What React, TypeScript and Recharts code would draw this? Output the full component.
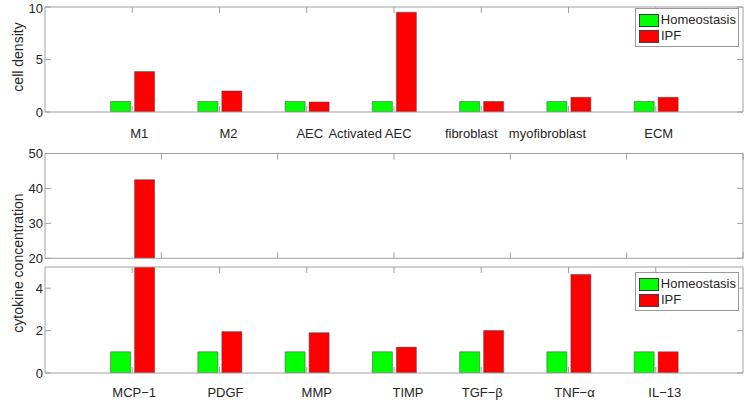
import React from "react";
import { BarChart, Bar, XAxis, YAxis, Legend } from "recharts";

// cell densities (top panel)
const cellTypes = ["M1", "M2", "AEC", "Activated AEC", "fibroblast", "myofibroblast", "ECM"];
const cellHomeostasis = [1, 1, 1, 1, 1, 1, 1];
const cellIPF = [3.85, 2.0, 0.95, 9.5, 1.0, 1.4, 1.4];
const cellTicks = [0, 5, 10];

// cytokine concentrations (broken axis, two lower panels)
const cytokines = ["MCP−1", "PDGF", "MMP", "TIMP", "TGF−β", "TNF−α", "IL−13"];
const cytoHomeostasis = [1, 1, 1, 1, 1, 1, 1];
const cytoIPF = [42.5, 1.95, 1.9, 1.22, 2.0, 4.65, 1.0];
const cytoLowTicks = [0, 2, 4];
const cytoHighTicks = [20, 30, 40, 50];
const highPanelXTicks = [1, 2, 3, 4, 5, 6];

// horizontal nudges of the category labels (as placed in the original)
const cellLabelShift = [7, 9, 3, -24, -10, -21, 3];
const cytoLabelShift = [2, 6, 10, 14, 1, 6, 9];

const W = 745;
const H = 400;
const FONT = "'Liberation Sans', Arial, Helvetica, sans-serif";
const AXIS = "#a0a0a0";
const TEXT = "#262626";
const GREEN = "#00ff00";
const RED = "#ff0000";
const EDGE = "#404040";

const cellData = cellTypes.map((name, i) => ({
  name,
  homeostasis: cellHomeostasis[i],
  ipf: cellIPF[i],
}));
const cytoData = cytokines.map((name, i) => ({
  name,
  homeostasis: cytoHomeostasis[i],
  ipf: cytoIPF[i],
}));
const cytoHighData = cytokines.map((name, i) => ({
  name,
  homeostasis: cytoHomeostasis[i] > 20 ? cytoHomeostasis[i] : null,
  ipf: cytoIPF[i] > 20 ? cytoIPF[i] : null,
}));

const catPadding = { left: 43.6, right: 43.6 };
const hiddenTick = () => <g />;

function makeTick(shifts: number[]) {
  return (props: any) => {
    const { x, y, payload } = props;
    return (
      <text
        x={x + (shifts[payload.index] || 0)}
        y={y}
        dy="0.71em"
        textAnchor="middle"
        fill={TEXT}
        fontSize={13}
      >
        {payload.value}
      </text>
    );
  };
}

function VLabel(props: any) {
  const { viewBox, text, cy } = props;
  const x = viewBox.x + 3;
  return (
    <text
      x={x}
      y={cy}
      transform={`rotate(-90 ${x} ${cy})`}
      textAnchor="middle"
      dominantBaseline="central"
      fill={TEXT}
      fontSize={14}
    >
      {text}
    </text>
  );
}

function LegendBox(props: any) {
  const items = props.payload || [];
  return (
    <div
      style={{
        width: 104,
        boxSizing: "border-box",
        border: "1px solid #9a9a9a",
        background: "#fff",
        padding: "3px 2px 2px 3px",
        fontSize: 13,
        lineHeight: "16px",
        color: TEXT,
        fontFamily: FONT,
        whiteSpace: "nowrap",
      }}
    >
      {items.map((it: any) => (
        <div key={it.value} style={{ display: "flex", alignItems: "center" }}>
          <span
            style={{
              display: "inline-block",
              width: 20,
              height: 13,
              background: it.color,
              border: `1px solid ${EDGE}`,
              marginRight: 2,
              boxSizing: "border-box",
            }}
          />
          {it.value}
        </div>
      ))}
    </div>
  );
}

const layer: React.CSSProperties = { position: "absolute", left: 0, top: 0 };
const yTick = { fill: TEXT, fontSize: 13 };

export default function App() {
  return (
    <div
      style={{
        position: "fixed",
        left: 0,
        top: 0,
        width: W,
        height: H,
        overflow: "hidden",
        background: "#fff",
        fontFamily: FONT,
      }}
    >
      {/* cell density */}
      <div style={layer}>
        <BarChart
          width={W}
          height={H}
          data={cellData}
          margin={{ top: 7, right: 2, bottom: 258, left: 15 }}
          barSize={20}
          barGap={4}
        >
          <XAxis
            xAxisId="cat"
            dataKey="name"
            padding={catPadding}
            height={30}
            stroke={AXIS}
            tickSize={-6}
            tickMargin={23}
            interval={0}
            tick={makeTick(cellLabelShift)}
          />
          <XAxis
            xAxisId="top"
            dataKey="name"
            orientation="top"
            mirror
            padding={catPadding}
            stroke={AXIS}
            tickSize={6}
            interval={0}
            tick={hiddenTick}
          />
          <YAxis
            yAxisId="l"
            domain={[0, 10]}
            ticks={cellTicks}
            width={30}
            stroke={AXIS}
            tickSize={-6}
            tickMargin={8}
            tick={yTick}
            allowDataOverflow
            label={<VLabel text="cell density" cy={57} />}
          />
          <YAxis
            yAxisId="r"
            orientation="right"
            mirror
            domain={[0, 10]}
            ticks={cellTicks}
            stroke={AXIS}
            tickSize={6}
            tick={hiddenTick}
            allowDataOverflow
          />
          <Legend
            layout="vertical"
            align="center"
            verticalAlign="middle"
            wrapperStyle={{ top: 8, left: 635, width: "auto" }}
            content={<LegendBox />}
          />
          <Bar
            xAxisId="cat"
            yAxisId="l"
            dataKey="homeostasis"
            name="Homeostasis"
            fill={GREEN}
            stroke={EDGE}
            strokeWidth={0.5}
            isAnimationActive={false}
          />
          <Bar
            xAxisId="cat"
            yAxisId="l"
            dataKey="ipf"
            name="IPF"
            fill={RED}
            stroke={EDGE}
            strokeWidth={0.5}
            isAnimationActive={false}
          />
        </BarChart>
      </div>

      {/* cytokine, upper (broken) part */}
      <div style={layer}>
        <BarChart
          width={W}
          height={H}
          data={cytoHighData}
          margin={{ top: 153.5, right: 2, bottom: 141.7, left: 15 }}
          barSize={20}
          barGap={4}
        >
          <XAxis xAxisId="cat" dataKey="name" padding={catPadding} hide />
          <XAxis
            xAxisId="bot"
            type="number"
            domain={[0.19, 7]}
            ticks={highPanelXTicks}
            allowDataOverflow
            orientation="bottom"
            mirror
            stroke={AXIS}
            tickSize={6}
            tick={hiddenTick}
          />
          <XAxis
            xAxisId="top"
            type="number"
            domain={[0.19, 7]}
            ticks={highPanelXTicks}
            allowDataOverflow
            orientation="top"
            mirror
            stroke={AXIS}
            tickSize={6}
            tick={hiddenTick}
          />
          <YAxis
            yAxisId="l"
            domain={[20, 50]}
            ticks={cytoHighTicks}
            width={30}
            stroke={AXIS}
            tickSize={-6}
            tickMargin={8}
            tick={yTick}
            allowDataOverflow
          />
          <YAxis
            yAxisId="r"
            orientation="right"
            mirror
            domain={[20, 50]}
            ticks={cytoHighTicks}
            stroke={AXIS}
            tickSize={6}
            tick={hiddenTick}
            allowDataOverflow
          />
          <Bar
            xAxisId="cat"
            yAxisId="l"
            dataKey="homeostasis"
            fill={GREEN}
            stroke={EDGE}
            strokeWidth={0.5}
            isAnimationActive={false}
          />
          <Bar
            xAxisId="cat"
            yAxisId="l"
            dataKey="ipf"
            fill={RED}
            stroke={EDGE}
            strokeWidth={0.5}
            isAnimationActive={false}
          />
        </BarChart>
      </div>

      {/* cytokine, lower part */}
      <div style={layer}>
        <BarChart
          width={W}
          height={H}
          data={cytoData}
          margin={{ top: 267, right: 2, bottom: 0, left: 15 }}
          barSize={20}
          barGap={4}
        >
          <XAxis
            xAxisId="cat"
            dataKey="name"
            padding={catPadding}
            height={27}
            stroke={AXIS}
            tickSize={-6}
            tickMargin={21}
            interval={0}
            tick={makeTick(cytoLabelShift)}
          />
          <XAxis
            xAxisId="top"
            dataKey="name"
            orientation="top"
            mirror
            padding={catPadding}
            stroke={AXIS}
            tickSize={6}
            interval={0}
            tick={hiddenTick}
          />
          <YAxis
            yAxisId="l"
            domain={[0, 5]}
            ticks={cytoLowTicks}
            width={30}
            stroke={AXIS}
            tickSize={-6}
            tickMargin={8}
            tick={yTick}
            allowDataOverflow
            label={<VLabel text="cytokine concentration" cy={263} />}
          />
          <YAxis
            yAxisId="r"
            orientation="right"
            mirror
            domain={[0, 5]}
            ticks={cytoLowTicks}
            stroke={AXIS}
            tickSize={6}
            tick={hiddenTick}
            allowDataOverflow
          />
          <Legend
            layout="vertical"
            align="center"
            verticalAlign="middle"
            wrapperStyle={{ top: 272, left: 635, width: "auto" }}
            content={<LegendBox />}
          />
          <Bar
            xAxisId="cat"
            yAxisId="l"
            dataKey="homeostasis"
            name="Homeostasis"
            fill={GREEN}
            stroke={EDGE}
            strokeWidth={0.5}
            isAnimationActive={false}
          />
          <Bar
            xAxisId="cat"
            yAxisId="l"
            dataKey="ipf"
            name="IPF"
            fill={RED}
            stroke={EDGE}
            strokeWidth={0.5}
            isAnimationActive={false}
          />
        </BarChart>
      </div>
    </div>
  );
}
